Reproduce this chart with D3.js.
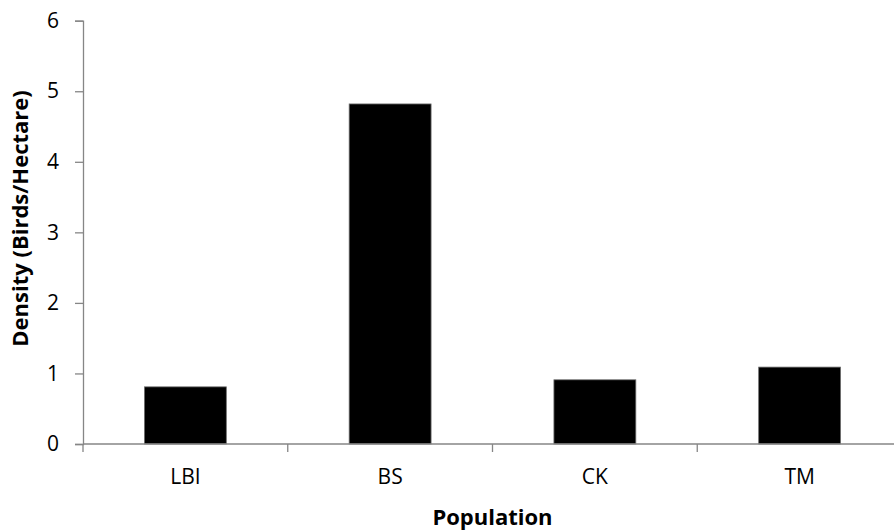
<!DOCTYPE html>
<html><head><meta charset="utf-8">
<script src="https://cdn.jsdelivr.net/npm/d3@7"></script>
<style>body{margin:0;background:#fff;} svg{display:block;}</style>
</head><body>
<svg id="chart" width="894" height="531"></svg>
<script>
const categories = ["LBI", "BS", "CK", "TM"];
const densities = [0.81, 4.82, 0.91, 1.09];
const yTicks = [0, 1, 2, 3, 4, 5, 6];

(function () {
const svg = d3.select("#chart");
const mLeft = 83, mRight = 902, mTop = 20.7, mBottom = 444;
const font = "'Open Sans', sans-serif";

const xb = d3.scaleBand().domain(categories).range([mLeft, mRight]);
const y = d3.scaleLinear().domain([0, 6]).range([mBottom, mTop]);

svg.selectAll("rect.bar").data(categories).join("rect")
  .attr("class", "bar")
  .attr("x", d => xb(d) + xb.bandwidth() * 0.3)
  .attr("width", xb.bandwidth() * 0.4)
  .attr("y", (d, i) => y(densities[i]))
  .attr("height", (d, i) => y(0) - y(densities[i]))
  .attr("fill", "#000")
  .attr("stroke", "#6e6e6e").attr("stroke-width", 0.8);

// Y axis
const yAxis = svg.append("g").attr("transform", `translate(${mLeft},0)`)
  .call(d3.axisLeft(y).tickValues(yTicks).tickSize(8).tickPadding(16).tickFormat(d3.format("d")));
yAxis.select(".domain").attr("stroke", "#868686").attr("stroke-width", 1.3);
yAxis.selectAll(".tick line").attr("stroke", "#868686").attr("stroke-width", 1.3);
yAxis.selectAll(".tick text").attr("font-family", font).attr("font-size", 21).attr("fill", "#000");

// X axis with boundary ticks
const xAxisG = svg.append("g").attr("transform", `translate(0,${mBottom})`);
xAxisG.append("line").attr("x1", mLeft).attr("x2", mRight).attr("stroke", "#868686").attr("stroke-width", 1.3);
const bounds = categories.map(c => xb(c)).concat([mRight]);
xAxisG.selectAll("line.tk").data(bounds).join("line").attr("class", "tk")
  .attr("x1", d => d).attr("x2", d => d).attr("y1", 0).attr("y2", 8)
  .attr("stroke", "#868686").attr("stroke-width", 1.3);
xAxisG.selectAll("text").data(categories).join("text")
  .attr("x", d => xb(d) + xb.bandwidth() / 2).attr("y", 40)
  .attr("text-anchor", "middle").attr("font-family", font).attr("font-size", 21).attr("fill", "#000")
  .text(d => d);

svg.append("text").attr("x", (mLeft + mRight) / 2).attr("y", 525).attr("text-anchor", "middle")
  .attr("font-family", font).attr("font-size", 22).attr("font-weight", "bold").text("Population");
svg.append("text").attr("transform", "translate(28,218.5) rotate(-90)").attr("text-anchor", "middle")
  .attr("font-family", font).attr("font-size", 22).attr("font-weight", "bold").text("Density (Birds/Hectare)");
})();
</script>
</body></html>
